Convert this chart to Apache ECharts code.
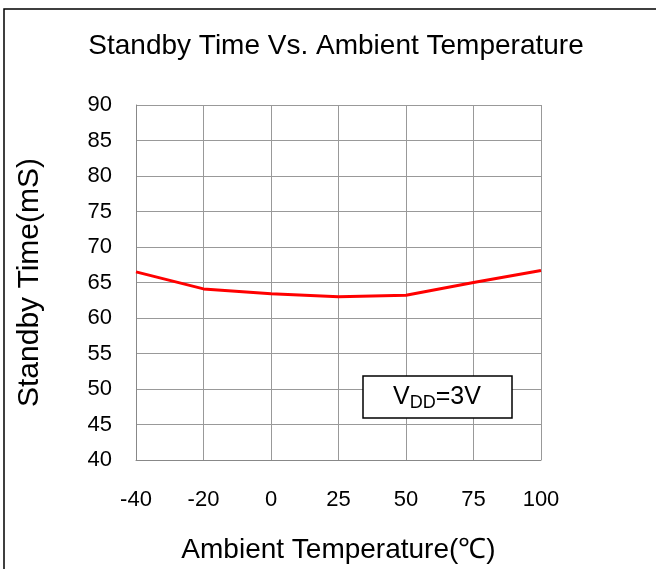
<!DOCTYPE html>
<html>
<head>
<meta charset="utf-8">
<script src="https://cdn.jsdelivr.net/npm/echarts@6/dist/echarts.min.js"></script>
<style>
  html, body { margin: 0; padding: 0; background: #fff; }
  #chart { width: 656px; height: 569px; }
</style>
</head>
<body>
<div id="chart"></div>
<script>
const temperatures = ['-40', '-20', '0', '25', '50', '75', '100'];
const standbyTime = [66.5, 64.1, 63.4, 63.0, 63.2, 65.0, 66.7];

const font = 'Liberation Sans, Arial, sans-serif';
let myChart = echarts.init(document.getElementById('chart'));

myChart.setOption({
  animation: false,
  title: {
    text: 'Standby Time Vs. Ambient Temperature',
    left: 331,
    top: 27,
    textAlign: 'center',
    textStyle: { fontFamily: font, fontSize: 28, fontWeight: 'normal', color: '#000' }
  },
  grid: { left: 136, top: 105, width: 405, height: 357 },
  xAxis: {
    type: 'category',
    data: temperatures,
    boundaryGap: false,
    name: 'Ambient Temperature(℃)',
    nameLocation: 'middle',
    nameGap: 76,
    nameTextStyle: { fontFamily: font, fontSize: 28, color: '#000' },
    axisLine: { lineStyle: { color: '#888', width: 1 } },
    axisTick: { show: false },
    axisLabel: { margin: 29, fontFamily: font, fontSize: 22, color: '#000' },
    splitLine: { show: true, lineStyle: { color: '#999', width: 1 } }
  },
  yAxis: {
    type: 'value',
    min: 40,
    max: 90,
    interval: 5,
    name: 'Standby Time(mS)',
    nameLocation: 'middle',
    nameGap: 91,
    nameRotate: 90,
    nameTextStyle: { fontFamily: font, fontSize: 30, color: '#000' },
    axisLine: { show: true, lineStyle: { color: '#888', width: 1 } },
    axisTick: { show: false },
    axisLabel: { margin: 24, fontFamily: font, fontSize: 22, color: '#000' },
    splitLine: { show: true, lineStyle: { color: '#999', width: 1 } }
  },
  graphic: [
    {
      type: 'rect',
      shape: { x: 4, y: 9, width: 700, height: 600 },
      style: { fill: 'none', stroke: '#000', lineWidth: 1.5 },
      silent: true
    },
    {
      type: 'rect',
      shape: { x: 363, y: 376, width: 149, height: 42 },
      style: { fill: '#fff', stroke: '#000', lineWidth: 1.5 },
      z: 10
    },
    {
      type: 'text',
      x: 437,
      y: 397,
      z: 11,
      style: {
        text: '{v|V}{s|DD}{v|=3V}',
        align: 'center',
        verticalAlign: 'middle',
        rich: {
          v: { fontFamily: font, fontSize: 25, color: '#000' },
          s: { fontFamily: font, fontSize: 18, color: '#000', padding: [12, 0, 0, 0] }
        }
      }
    }
  ],
  series: [{
    type: 'line',
    data: standbyTime,
    symbol: 'none',
    lineStyle: { color: '#ff0000', width: 3 },
    z: 5
  }]
});
</script>
</body>
</html>
